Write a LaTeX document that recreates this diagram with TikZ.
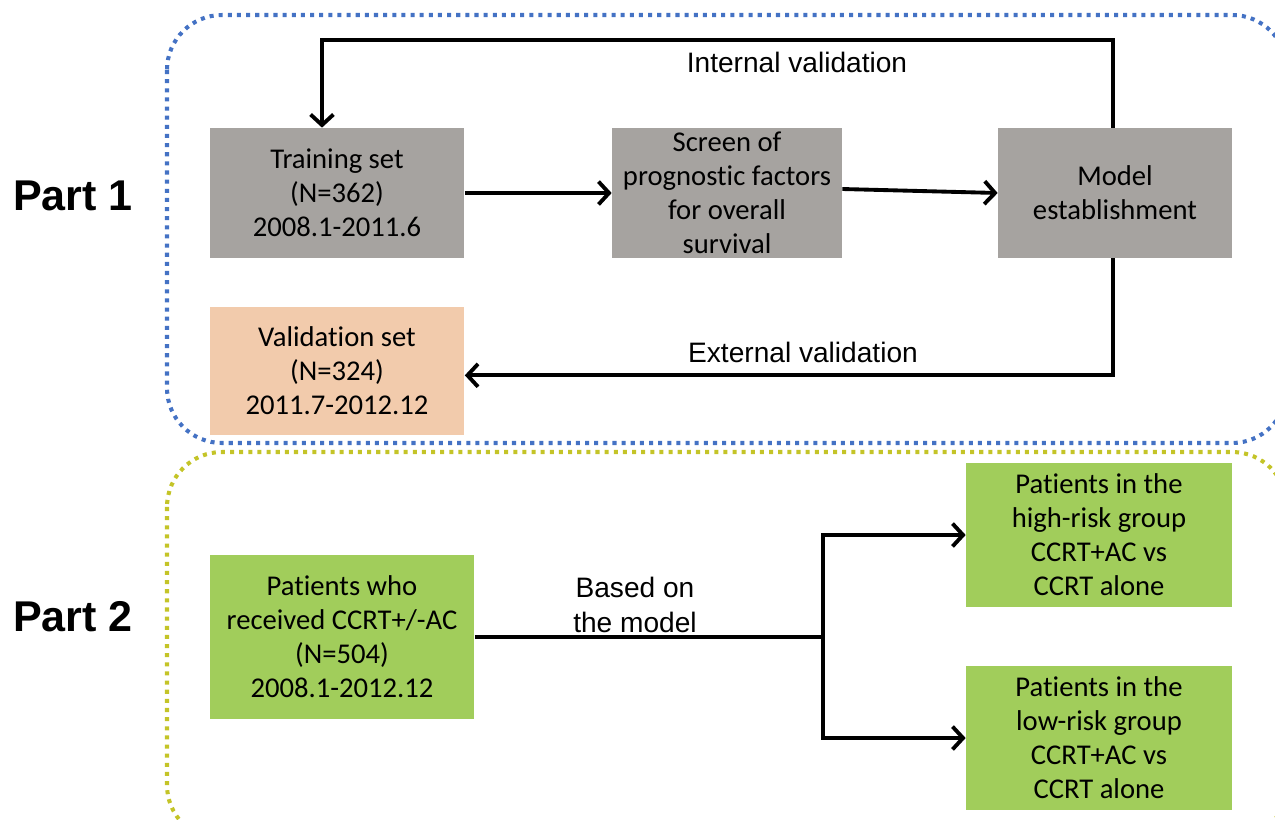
\documentclass[tikz,border=0pt]{standalone}
\usepackage{fontspec}
\setmainfont{Carlito}[Ligatures={NoCommon}, Contextuals={NoAlternate}]
\newfontfamily\arialfont{Liberation Sans}
\usetikzlibrary{arrows.meta,positioning,calc}
\definecolor{BoxGray}{RGB}{166,163,160}
\definecolor{BoxPeach}{RGB}{242,203,172}
\definecolor{BoxGreen}{RGB}{161,205,91}
\definecolor{PartBlue}{RGB}{68,114,196}
\definecolor{PartYellow}{RGB}{196,196,40}
\tikzset{
    block/.style = {rectangle, fill=BoxGray, inner sep=0pt,
        minimum height=2.6cm,
        minimum width=5.1cm, align=center,
        font=\fontsize{16.3}{19.3}\selectfont},
    arrow/.style = {draw, line width=2.2pt, -{Straight Barb[length=6pt,width=13pt]}},
    line/.style = {draw, line width=2.2pt},
    partbox/.style = {rounded corners=1.1cm, line width=2.3pt, dash pattern=on 2.3pt off 2.9pt},
    partlabel/.style = {font=\arialfont\bfseries\fontsize{24.5}{29}\selectfont},
    lbl/.style = {font=\arialfont\fontsize{16}{19.5}\selectfont, align=center}
}

\begin{document}
\begin{tikzpicture}[x=0.02cm, y=-0.02cm]
    \useasboundingbox (0,0) rectangle (1275,819);
    % frames of the two parts
    \draw[partbox, PartBlue] (167,15) rectangle (1287,443);
    \draw[partbox, PartYellow] (167,452) rectangle (1287,840);
    \node[partlabel] (part1) at (73,196) {Part 1};
    \node[partlabel] (part2) at (73,617) {Part 2};
    % part 1
    \node[block] (train) at (337,193) {Training set\\(N=362)\\2008.1-2011.6};
    \node[block, minimum width=4.6cm] (screen) at (727,193) {Screen of\\prognostic factors\\for overall\\survival};
    \node[block, minimum width=4.68cm] (model) at (1115,193) {Model\\establishment};
    \node[block, fill=BoxPeach, minimum height=2.56cm] (valid) at (337,371) {Validation set\\(N=324)\\2011.7-2012.12};
    \draw[arrow] (train) -- (screen);
    \draw[arrow] ($(screen.east)+(0,-4)$) -- (model.west);
    \coordinate (intl) at ($(train.north)+(-15,-88)$);
    \draw[arrow] ($(model.north)+(-2,0)$) |- (intl) -- ($(train.north)+(-15,0)$);
    \node[lbl] (intlab) at (797,62) {Internal validation};
    \coordinate (extl) at ($(model.south)+(-2,117)$);
    \draw[arrow] ($(model.south)+(-2,0)$) -- (extl) -- (extl -| valid.east);
    \node[lbl] (extlab) at (803,352) {External validation};
    % part 2
    \node[block, fill=BoxGreen, minimum width=5.3cm, minimum height=3.3cm] (pat) at (342,637) {Patients who\\received CCRT+/-AC\\(N=504)\\2008.1-2012.12};
    \node[block, fill=BoxGreen, minimum width=5.32cm, minimum height=2.88cm] (high) at (1099,535) {Patients in the\\high-risk group\\CCRT+AC vs\\CCRT alone};
    \node[block, fill=BoxGreen, minimum width=5.32cm, minimum height=2.88cm] (low) at (1099,738) {Patients in the\\low-risk group\\CCRT+AC vs\\CCRT alone};
    \coordinate (split) at (823,637);
    \draw[line] (pat.east) -- (split);
    \draw[arrow] (split) |- (high.west);
    \draw[arrow] (split) |- (low.west);
    \node[lbl] (based) at (635,605) {Based on\\the model};
\end{tikzpicture}
\end{document}
